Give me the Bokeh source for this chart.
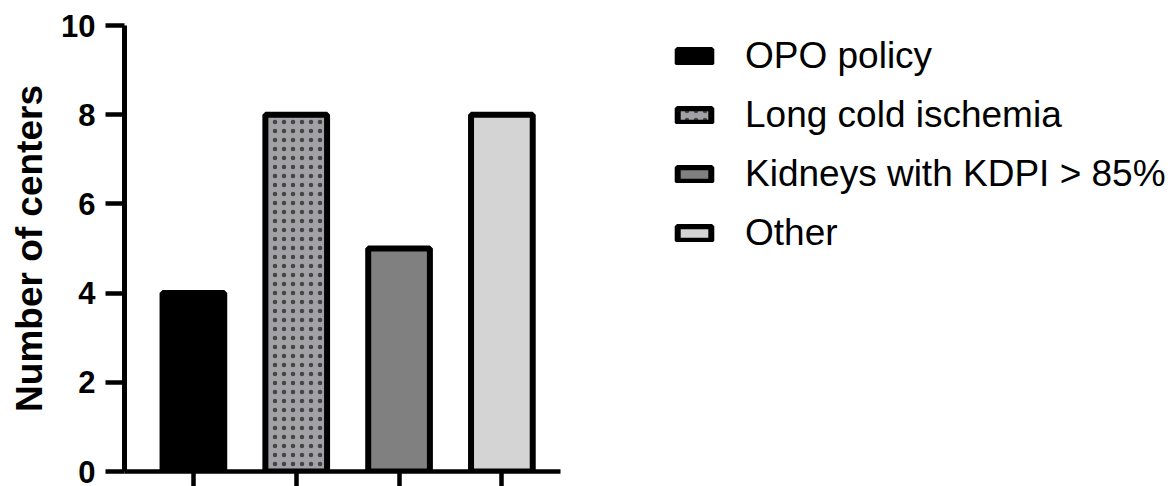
from bokeh.plotting import figure
from bokeh.models import Range1d, FixedTicker, Legend, LegendItem
from bokeh.embed import file_html
from bokeh.resources import INLINE

# ---- data ----
categories = ["OPO policy", "Long cold ischemia", "Kidneys with KDPI > 85%", "Other"]
counts = [4, 8, 5, 8]
y_ticks = [0, 2, 4, 6, 8, 10]
y_label = "Number of centers"

# ---- styles ----
fills = ["#000000", "#A2A2A6", "#808080", "#D4D4D4"]
hatches = [None, "dot", None, None]
FONT = "Liberation Sans"

positions = list(range(1, len(categories) + 1))

p = figure(frame_width=436, frame_height=446,
           x_range=Range1d(0.33, 4.57), y_range=Range1d(0, 10),
           output_backend="svg", toolbar_location=None,
           min_border_left=124, min_border_top=25,
           min_border_bottom=15, min_border_right=0)
p.outline_line_color = None
p.xgrid.visible = False
p.ygrid.visible = False
p.background_fill_color = "white"
p.border_fill_color = "white"

# y axis
ya = p.yaxis[0]
ya.ticker = FixedTicker(ticks=y_ticks, minor_ticks=[])
ya.axis_line_width = 5
ya.major_tick_line_width = 4.5
ya.major_tick_out = 19
ya.major_tick_in = 0
ya.minor_tick_out = 0
ya.minor_tick_in = 0
ya.major_label_text_font = FONT
ya.major_label_text_font_style = "bold"
ya.major_label_text_font_size = "31px"
ya.major_label_text_color = "black"
ya.major_label_standoff = 10
ya.axis_label = y_label
ya.axis_label_text_font = FONT
ya.axis_label_text_font_style = "bold"
ya.axis_label_text_font_size = "37px"
ya.axis_label_text_color = "black"
ya.axis_label_standoff = 8

# x axis
xa = p.xaxis[0]
xa.ticker = FixedTicker(ticks=positions, minor_ticks=[])
xa.axis_line_width = 4.5
xa.major_tick_line_width = 4.5
xa.major_tick_out = 15
xa.major_tick_in = 0
xa.minor_tick_out = 0
xa.minor_tick_in = 0
xa.major_label_text_font_size = "0px"
xa.major_label_standoff = 0

items = []
for pos, cat, cnt, fc, hp in zip(positions, categories, counts, fills, hatches):
    kw = dict(hatch_pattern=hp, hatch_color="#444444", hatch_scale=9, hatch_weight=0.5) if hp else {}
    r = p.vbar(x=[pos], top=[cnt], bottom=0, width=0.6,
               fill_color=fc, line_color="black", line_width=6, **kw)
    items.append(LegendItem(label=cat, renderers=[r]))

legend = Legend(items=items, location=(113, 217),
                label_text_font=FONT, label_text_font_size="37px",
                label_text_color="black",
                glyph_width=42, glyph_height=18, label_height=38,
                label_standoff=30, spacing=17, padding=0, margin=0,
                border_line_color=None, background_fill_alpha=0)
p.add_layout(legend, "right")

open("out.html", "w").write(file_html(p, INLINE))
